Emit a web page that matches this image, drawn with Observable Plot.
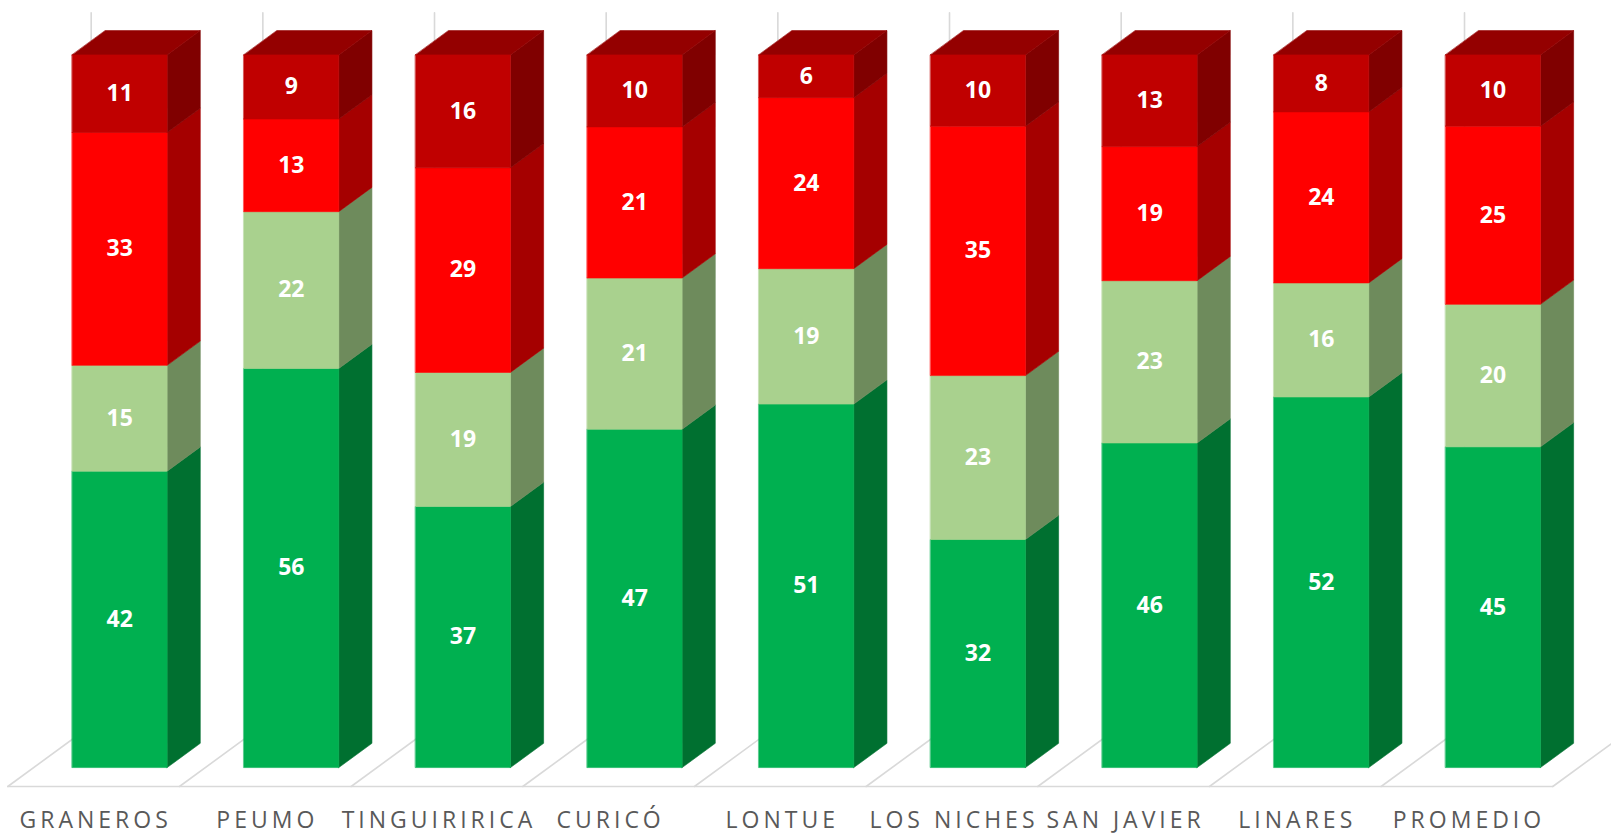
<!DOCTYPE html>
<html>
<head>
<meta charset="utf-8">
<script src="https://cdn.jsdelivr.net/npm/d3@7"></script>
<script src="https://cdn.jsdelivr.net/npm/@observablehq/plot@0.6"></script>
<style>
  html, body { margin: 0; padding: 0; background: #fff; overflow: hidden; }
</style>
</head>
<body>
<div id="chart"></div>
<script>
// ---- data ----
const categories = ["GRANEROS", "PEUMO", "TINGUIRIRICA", "CURICÓ", "LONTUE", "LOS NICHES", "SAN JAVIER", "LINARES", "PROMEDIO"];
const serieVerde = [42, 56, 37, 47, 51, 32, 46, 52, 45];        // bottom, green
const serieVerdeClaro = [15, 22, 19, 21, 19, 23, 23, 16, 20];   // light green
const serieRoja = [33, 13, 29, 21, 24, 35, 19, 24, 25];         // red
const serieRojoOscuro = [11, 9, 16, 10, 6, 10, 13, 8, 10];      // top, dark red
const series = [serieVerde, serieVerdeClaro, serieRoja, serieRojoOscuro];

// ---- styles ----
const frontColors = ["#00B050", "#A9D18E", "#FF0000", "#C00000"];
const sideColors = ["#007030", "#6E8B5C", "#A50000", "#800000"];
const topColor = "#940000";
const gridColor = "#D9D9D9";
const letterSpacing = 4;

// ---- 3D geometry (in scale units) ----
const DX = 0.4857;  // floor depth, x (slot units)
const DY = 0.0856;  // floor depth, y (value units)
const Z1 = 0.31, Z2 = 0.708; // bar front / back depth
const UL = 0.2244, UR = 0.7774; // bar left/right within slot

const faces = [];
const valueLabels = [];
categories.forEach((cat, i) => {
  const vals = series.map(s => s[i]);
  const total = d3.sum(vals);
  let cum = 0;
  vals.forEach((v, j) => {
    const v0 = cum / total, v1 = (cum + v) / total;
    cum += v;
    const xf0 = i + UL + Z1 * DX, xf1 = i + UR + Z1 * DX, xb1 = i + UR + Z2 * DX, xb0 = i + UL + Z2 * DX;
    const yf0 = v0 + Z1 * DY, yf1 = v1 + Z1 * DY, yb0 = v0 + Z2 * DY, yb1 = v1 + Z2 * DY;
    const push = (kind, fill, pts) => pts.forEach(([x, y]) => faces.push({kind, id: `${kind}-${i}-${j}`, fill, x, y}));
    push("side", sideColors[j], [[xf1, yf0], [xb1, yb0], [xb1, yb1], [xf1, yf1]]);
    if (j === vals.length - 1) {
      push("top", topColor, [[xf0, yf1], [xf1, yf1], [xb1, yb1], [xb0, yb1]]);
    }
    push("front", frontColors[j], [[xf0, yf0], [xf1, yf0], [xf1, yf1], [xf0, yf1]]);
    valueLabels.push({x: (xf0 + xf1) / 2, y: (yf0 + yf1) / 2, text: String(v)});
  });
});

// floor & wall grid
const gridLines = [];
gridLines.push({id: "front", x: 0, y: 0}, {id: "front", x: categories.length, y: 0});
for (let k = 0; k <= categories.length; k++) {
  gridLines.push({id: `diag${k}`, x: k, y: 0}, {id: `diag${k}`, x: k + DX, y: DY});
  gridLines.push({id: `wall${k}`, x: k + DX, y: DY}, {id: `wall${k}`, x: k + DX, y: 1 + DY});
}

const catLabels = categories.map((c, i) => ({x: i + 0.5, y: 0, text: c}));

const faceMark = kind => Plot.line(faces.filter(d => d.kind === kind), {
  x: "x", y: "y", z: "id", fill: "fill", stroke: "fill", strokeWidth: 0.6, curve: "linear-closed"
});

const svg = Plot.plot({
  width: 1611,
  height: 835,
  x: {domain: [0, categories.length], range: [7.3, 1552.3], axis: null},
  y: {domain: [0, 1], range: [786, 73.3], axis: null},
  color: {type: "identity"},
  style: {background: "#fff"},
  marks: [
    Plot.line(gridLines, {x: "x", y: "y", z: "id", stroke: gridColor, strokeWidth: 1.6}),
    faceMark("side"),
    faceMark("top"),
    faceMark("front"),
    Plot.text(valueLabels, {x: "x", y: "y", text: "text", fill: "white", fontWeight: "bold",
      fontSize: 23, fontFamily: "Open Sans"}),
    Plot.text(catLabels, {x: "x", y: "y", text: "text", dy: 34, dx: letterSpacing / 2, fill: "#595959",
      fontSize: 23, fontFamily: "Open Sans"})
  ]
});
d3.select(svg).selectAll("text")
  .filter(function() { return categories.includes(this.textContent); })
  .attr("letter-spacing", letterSpacing + "px")
  .style("letter-spacing", letterSpacing + "px");
document.getElementById("chart").appendChild(svg);
</script>
</body>
</html>
